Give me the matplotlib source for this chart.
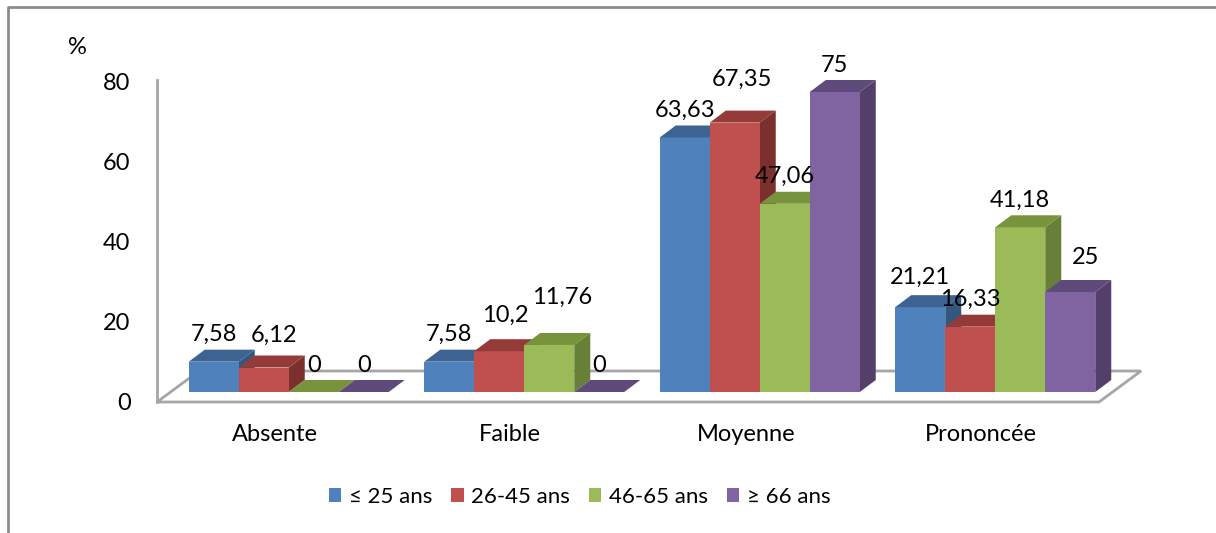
import numpy as np
import matplotlib
matplotlib.use('Agg')
import matplotlib.pyplot as plt
from matplotlib.patches import Polygon, Rectangle, Patch
from matplotlib.lines import Line2D

plt.rcParams['font.family'] = ['Lato', 'DejaVu Sans']

# Data
categories = ['Absente', 'Faible', 'Moyenne', 'Prononcée']
series = ['≤ 25 ans', '26-45 ans', '46-65 ans', '≥ 66 ans']
age_le25 = [7.58, 7.58, 63.63, 21.21]
age_26_45 = [6.12, 10.2, 67.35, 16.33]
age_46_65 = [0, 11.76, 47.06, 41.18]
age_ge66 = [0, 0, 75, 25]
values = [age_le25, age_26_45, age_46_65, age_ge66]
yticks = [0, 20, 40, 60, 80]

# Office-style colours: front, top, side
front_cols = ['#4F81BD', '#C0504D', '#9BBB59', '#8064A2']
top_cols = ['#3C6391', '#943B39', '#77933C', '#5F4A7C']
side_cols = ['#34577F', '#7C302E', '#687F37', '#533F6A']

# label nudges (pixels) where labels would collide
nudges = {(0, 1): (10, 5), (1, 1): (6, 9), (1, 2): (13, 21),
          (2, 1): (7, 16), (3, 0): (0, 3), (3, 3): (15, 8)}

FS = 17

W, H = 1216, 533
fig = plt.figure(figsize=(W / 100, H / 100), dpi=100)
ax = fig.add_axes([157 / W, 1 - 402 / H, 942 / W, 320 / H])
ax.set_xlim(-0.5, 3.5)
ax.set_ylim(0, 80)
for s in ax.spines.values():
    s.set_visible(False)

px_x = 942 / 4.0   # pixels per x unit
px_y = 4.0         # pixels per y unit

bar_w = 50 / px_x
# offsets of the bar plane and depth vectors, in data units
off_x, off_y = 14 / px_x, 10 / px_y
bd_x, bd_y = 16 / px_x, 12 / px_y
fd_x, fd_y = 42 / px_x, 31 / px_y

grey = '#A6A6A6'

# floor
floor = Polygon([(-0.5, 0), (3.5, 0), (3.5 + fd_x, fd_y), (-0.5 + fd_x, fd_y)],
                closed=True, facecolor='white', edgecolor=grey, lw=2,
                clip_on=False, zorder=1)
ax.add_patch(floor)
# side wall edge
ax.plot([-0.5, -0.5], [0, 80.5], color=grey, lw=2, clip_on=False, zorder=1)

z = 2
for i in range(len(categories)):
    start = i + off_x - 2 * bar_w
    for j in range(len(series)):
        v = values[j][i]
        x0 = start + j * bar_w
        b = off_y
        t = off_y + v
        if v > 0:
            ax.add_patch(Polygon([(x0 + bar_w, b), (x0 + bar_w, t),
                                  (x0 + bar_w + bd_x, t + bd_y),
                                  (x0 + bar_w + bd_x, b + bd_y)],
                                 closed=True, facecolor=side_cols[j],
                                 edgecolor='none', clip_on=False, zorder=z))
            ax.add_patch(Rectangle((x0, b), bar_w, v, facecolor=front_cols[j],
                                   edgecolor='none', clip_on=False, zorder=z + 1))
        ax.add_patch(Polygon([(x0, t), (x0 + bar_w, t),
                              (x0 + bar_w + bd_x, t + bd_y), (x0 + bd_x, t + bd_y)],
                             closed=True, facecolor=top_cols[j],
                             edgecolor='none', clip_on=False, zorder=z + 1))
        z += 2

        label = f'{v:g}'.replace('.', ',')
        nx, ny = nudges.get((i, j), (0, 0))
        ax.annotate(label, (x0 + bar_w / 2, t + bd_y + 15 / px_y),
                    xytext=(nx, ny), textcoords='offset pixels',
                    ha='center', va='center', fontsize=FS, color='black',
                    zorder=100, annotation_clip=False)

ax.set_yticks(yticks)
ax.set_yticklabels([str(t) for t in yticks], fontsize=FS)
ax.set_xticks(range(len(categories)))
ax.set_xticklabels(categories, fontsize=FS)
ax.tick_params(axis='y', length=0, pad=19)
ax.tick_params(axis='x', length=0, pad=16)

fig.text(77 / W, 1 - 47 / H, '%', ha='center', va='center', fontsize=FS)

handles = [Patch(facecolor=c, edgecolor='none') for c in front_cols]
fig.legend(handles, series, loc='center', bbox_to_anchor=(580 / W, 1 - 497 / H),
           ncol=4, frameon=False, fontsize=16, handlelength=0.55,
           handleheight=0.55, handletextpad=0.35, columnspacing=0.85)

# outer frame (left and top edges)
fig.add_artist(Line2D([8 / W, 8 / W, 1], [0, 1 - 7 / H, 1 - 7 / H],
                      color='#8C8C8C', lw=2, transform=fig.transFigure))

fig.savefig('out.png', dpi=100)
